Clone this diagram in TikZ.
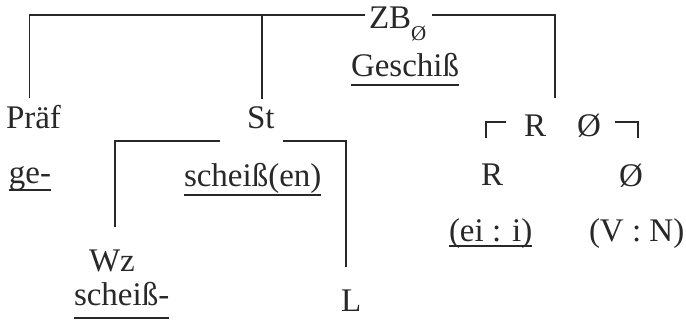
\documentclass[tikz,border=0pt]{standalone}
\usepackage{fontspec}
\setmainfont{Liberation Serif}
\begin{document}
\begin{tikzpicture}[x=1pt,y=-1pt,
  lbl/.style={anchor=base west,inner sep=0pt,outer sep=0pt,text=ink,
              font=\fontsize{33}{36}\selectfont},
  tree/.style={draw=ink,line width=1.6pt},
  ul/.style={draw=ink,line width=1.4pt}]
\definecolor{ink}{RGB}{40,40,40}
\useasboundingbox (0,0) rectangle (686,325);

% labels
\node[lbl] (zb)     at (369,28)  {ZB\raisebox{-12pt}{\fontsize{21}{21}\selectfont Ø}};
\node[lbl] (gesch)  at (351,76)  {Geschiß};
\node[lbl] (praef)  at (6,128)   {Präf};
\node[lbl] (st)     at (247,128) {St};
\node[lbl] (ge)     at (9,183)   {ge-};
\node[lbl] (scheis) at (184,186) {scheiß(en)};
\node[lbl] (wz)     at (89,271)  {Wz};
\node[lbl] (wzform) at (74,305)  {scheiß-};
\node[lbl] (lnode)  at (341,311) {L};
\node[lbl] (rtop)   at (524,136) {R};
\node[lbl] (otop)   at (577,136) {Ø};
\node[lbl] (rlow)   at (481,185) {R};
\node[lbl] (olow)   at (619,186) {Ø};
\node[lbl] (eii)    at (449,241) {(ei : i)};
\node[lbl] (vn)     at (589,241) {(V : N)};

% underlines
\draw[ul] ([yshift=-9pt]gesch.base west) -- ([yshift=-9pt]gesch.base east);
\draw[ul] ([yshift=-7pt]ge.base west) -- ([yshift=-7pt]ge.base east);
\draw[ul] ([yshift=-9pt]scheis.base west) -- ([yshift=-9pt]scheis.base east);
\draw[ul] ([yshift=-13pt]wzform.base west) -- ([yshift=-13pt]wzform.base east);
\draw[ul] ([yshift=-5pt]eii.base west) -- ([yshift=-5pt]eii.base east);

% top level branches
\coordinate (zbL) at (365,15);
\coordinate (zbR) at (432,15);
\coordinate (stemR) at (555,98);
\draw[tree] (zbL) -| ([xshift=-4pt,yshift=7pt]praef.north);
\draw[tree] ([xshift=1pt]st.north |- zbL) -- ([xshift=1pt,yshift=7pt]st.north);
\draw[tree] (zbR) -| (stemR);

% branches of the stem
\coordinate (stL) at (220,141);
\coordinate (stR) at (283,141);
\draw[tree] (stL) -| ([xshift=3pt,yshift=22pt]wz.north);
\draw[tree] (stR) -| ([xshift=-5pt,yshift=22pt]lnode.north);

% corner brackets round R and Ø
\coordinate (brL) at (486,122);
\coordinate (brR) at (638,122);
\draw[tree] ([xshift=20pt]brL) -- (brL) -- ([yshift=-16pt]brL);
\draw[tree] ([xshift=-23pt]brR) -- (brR) -- ([yshift=-16pt]brR);
\end{tikzpicture}
\end{document}
